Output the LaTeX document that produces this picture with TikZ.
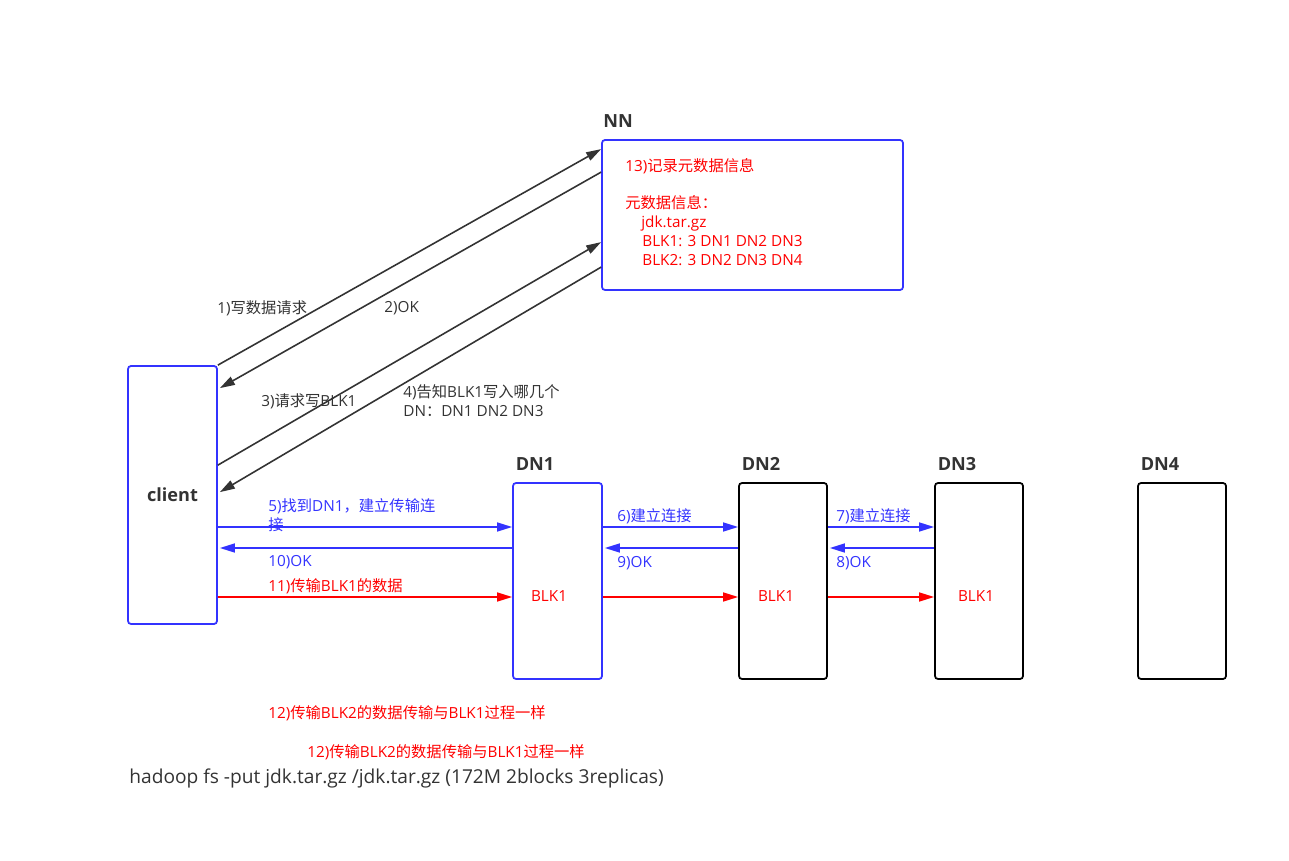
\documentclass[tikz,border=0pt]{standalone}
\usepackage{fontspec}
\setmainfont{Open Sans}
\newfontfamily\cjk{Noto Sans CJK SC}
\usepackage{xcolor}
\usepackage{tikz}
\usetikzlibrary{calc}
\usetikzlibrary{arrows.meta}
\definecolor{boxblue}{RGB}{51,51,255}
\definecolor{darkline}{RGB}{51,51,51}
\tikzset{>={Triangle[length=3mm,width=1.8mm]}}
\newcommand{\zh}[1]{{\cjk #1}}

\begin{document}
\begin{tikzpicture}[font=\fontsize{8.7}{10.7}\selectfont,
	hostbox/.style={draw,line width=1pt,rounded corners=1.7pt,inner sep=0pt},
	hosttitle/.style={font=\fontsize{10.3}{12}\selectfont\bfseries,text=darkline},
	msg/.style={anchor=west,align=left,inner sep=0pt},
	darr/.style={->,line width=0.9pt,darkline},
	barr/.style={->,line width=0.9pt,boxblue},
	rarr/.style={->,line width=0.9pt,red}]
	\useasboundingbox (0,0) rectangle (25.78,17.2);
	% hosts
	\node[hostbox,boxblue,minimum width=6.02cm,minimum height=3cm] (NN) at (15.05,12.9) {};
	\node[hostbox,boxblue,minimum width=1.78cm,minimum height=5.16cm,text=darkline,font=\fontsize{10.3}{12}\selectfont\bfseries] (client) at (3.45,7.3) {client};
	\node[hostbox,boxblue,minimum width=1.78cm,minimum height=3.92cm] (DN1) at (11.15,5.58) {};
	\node[hostbox,minimum width=1.76cm,minimum height=3.92cm] (DN2) at (15.66,5.58) {};
	\node[hostbox,minimum width=1.76cm,minimum height=3.92cm] (DN3) at (19.58,5.58) {};
	\node[hostbox,minimum width=1.76cm,minimum height=3.92cm] (DN4) at (23.64,5.58) {};
	\node[hosttitle] (NN title) at (12.36,14.78) {NN};
	\node[hosttitle] (DN1 title) at (10.7,7.92) {DN1};
	\node[hosttitle] (DN2 title) at (15.22,7.92) {DN2};
	\node[hosttitle] (DN3 title) at (19.14,7.92) {DN3};
	\node[hosttitle] (DN4 title) at (23.2,7.92) {DN4};
	% metadata
	\node[msg,text=red] (meta) at (12.5,12.96) {13)\zh{记录元数据信息}\\[\baselineskip]\zh{元数据信息：}\\\hspace{0.32cm}jdk.tar.gz\\\hspace{0.34cm}BLK1: 3 DN1 DN2 DN3\\\hspace{0.34cm}BLK2: 3 DN2 DN3 DN4};
	% client <-> NN
	\draw[darr] (client.north east) -- ($(NN.north west)+(0,-0.2)$);
	\draw[darr] ($(NN.north west)+(0,-0.66)$) -- ($(client.north east)+(0.04,-0.46)$);
	\draw[darr] ($(client.north east)+(0,-2)$) -- ($(NN.north west)+(0,-2.06)$);
	\draw[darr] ($(NN.north west)+(0,-2.56)$) -- ($(client.north east)+(0.04,-2.54)$);
	\node[msg,text=darkline] (m1) at (4.34,11.04) {1)\zh{写数据请求}};
	\node[msg,text=darkline] (m2) at (7.68,11.04) {2)OK};
	\node[msg,text=darkline] (m3) at (5.22,9.18) {3)\zh{请求写}BLK1};
	\node[msg,text=darkline] (m4) at (8.06,9.18) {4)\zh{告知}BLK1\zh{写入哪几个}\\DN\zh{：}DN1 DN2 DN3};
	% pipeline
	\draw[barr] ([yshift=-0.64cm]client.east) -- ([yshift=1.08cm]DN1.west);
	\draw[barr] ([yshift=0.66cm]DN1.west) -- ([xshift=0.04cm,yshift=-1.06cm]client.east);
	\draw[rarr] ([yshift=-2.04cm]client.east) -- ([yshift=-0.32cm]DN1.west);
	\draw[barr] ([yshift=1.08cm]DN1.east) -- ([yshift=1.08cm]DN2.west);
	\draw[barr] ([yshift=0.66cm]DN2.west) -- ([xshift=0.04cm,yshift=0.66cm]DN1.east);
	\draw[rarr] ([yshift=-0.32cm]DN1.east) -- ([yshift=-0.32cm]DN2.west);
	\draw[barr] ([yshift=1.08cm]DN2.east) -- ([yshift=1.08cm]DN3.west);
	\draw[barr] ([yshift=0.66cm]DN3.west) -- ([xshift=0.04cm,yshift=0.66cm]DN2.east);
	\draw[rarr] ([yshift=-0.32cm]DN2.east) -- ([yshift=-0.32cm]DN3.west);
	\node[msg,text=boxblue] (m5) at (5.36,6.9) {5)\zh{找到}DN1\zh{，建立传输连}\\\zh{接}};
	\node[msg,text=boxblue] (m10) at (5.36,5.96) {10)OK};
	\node[msg,text=red] (m11) at (5.36,5.48) {11)\zh{传输}BLK1\zh{的数据}};
	\node[msg,text=boxblue] (m6) at (12.34,6.88) {6)\zh{建立连接}};
	\node[msg,text=boxblue] (m9) at (12.34,5.94) {9)OK};
	\node[msg,text=boxblue] (m7) at (16.72,6.88) {7)\zh{建立连接}};
	\node[msg,text=boxblue] (m8) at (16.72,5.94) {8)OK};
	\node[text=red] (blk1 a) at (10.98,5.28) {BLK1};
	\node[text=red] (blk1 b) at (15.52,5.28) {BLK1};
	\node[text=red] (blk1 c) at (19.52,5.28) {BLK1};
	% notes
	\node[msg,text=red] (m12 a) at (5.36,2.94) {12)\zh{传输}BLK2\zh{的数据传输与}BLK1\zh{过程一样}};
	\node[msg,text=red] (m12 b) at (6.14,2.16) {12)\zh{传输}BLK2\zh{的数据传输与}BLK1\zh{过程一样}};
	\node[msg,text=darkline,font=\fontsize{10.9}{12}\selectfont] (cmd) at (2.58,1.64) {hadoop fs -put jdk.tar.gz /jdk.tar.gz (172M 2blocks 3replicas)};
\end{tikzpicture}
\end{document}
